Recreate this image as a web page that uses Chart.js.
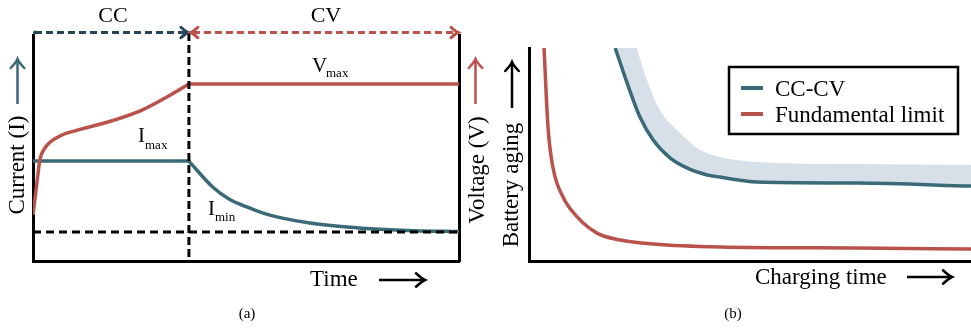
<!DOCTYPE html>
<html><head><meta charset="utf-8">
<script src="https://cdn.jsdelivr.net/npm/chart.js@4.4.0/dist/chart.umd.min.js"></script>
<style>
html,body{margin:0;padding:0;background:#fff;}
#wrap{position:relative;width:971px;height:328px;overflow:hidden;background:#fff;}
canvas{position:absolute;top:0;}
#ca{left:0;} #cb{left:490px;}
</style></head><body>
<div id="wrap"><canvas id="ca" width="490" height="328"></canvas><canvas id="cb" width="481" height="328"></canvas></div>
<script>
// ---------- Panel (a): CC-CV charging profile ----------
const switchTime = 36.6;          // end of CC phase
const iMax = 44.2;                // constant current level
const iMin = 12.8;                // cut-off current
const vMax = 78.3;                // constant voltage level
const ccTime = [0, 36.6];
const ccCurrent = [44.2, 44.2];
const cvTime = [36.6, 42.3, 46.2, 50.2, 54.0, 58.0, 65.0, 73.7, 81.5, 89.2, 100];
const cvCurrent = [44.2, 32.5, 27.2, 23.9, 21.2, 19.2, 16.8, 15.0, 14.0, 13.4, 13.0];
const rampTime = [0, 1.2, 1.6, 2.8, 5.9, 10.6, 17.6, 25.6, 31.0, 36.6];
const rampVoltage = [20.4, 39.0, 44.7, 50.0, 54.9, 58.0, 61.5, 66.8, 72.1, 78.3];
const holdTime = [36.6, 100];
const holdVoltage = [78.3, 78.3];

// ---------- Panel (b): aging vs charging time ----------
const fundTime = [3.4, 4.3, 5.4, 7.7, 10.9, 15.4, 20.6, 28.1, 43.2, 74.2, 100];
const fundAging = [100, 62.9, 44.1, 30.0, 20.7, 13.1, 9.9, 8.0, 6.6, 6.1, 5.6];
const cccvTime = [19.5, 22.2, 25.1, 28.1, 31.9, 35.7, 40.3, 43.2, 51.6, 74.2, 100];
const cccvAging = [100, 83.6, 67.6, 56.8, 48.4, 43.7, 40.4, 39.4, 37.1, 36.6, 35.2];
const bandTime = [19.5, 24.4, 26.7, 29.6, 34.2, 38.7, 43.2, 51.6, 74.2, 100];
const bandAging = [140, 100, 85.0, 70.9, 60.1, 52.1, 48.8, 46.5, 45.5, 45.1];

const TEAL = '#3a6a78', RED = '#b8524a', NAVY = '#27465c', BAND = '#d7e0e8';
const FONT = '"Liberation Serif", "Times New Roman", serif';

const pts = (xs, ys) => xs.map((v, i) => ({x: v, y: ys[i]}));

function text(ctx, s, x, y, size, align, color, rot) {
  ctx.save();
  ctx.font = size + 'px ' + FONT;
  ctx.fillStyle = color || '#000';
  ctx.textAlign = align || 'left';
  ctx.textBaseline = 'alphabetic';
  ctx.translate(x, y);
  if (rot) ctx.rotate(rot);
  ctx.fillText(s, 0, 0);
  ctx.restore();
}
function head(ctx, x, y, ang, size, color, lw) {
  ctx.save();
  ctx.translate(x, y); ctx.rotate(ang);
  ctx.strokeStyle = color; ctx.lineWidth = lw; ctx.lineCap = 'round'; ctx.lineJoin = 'miter';
  ctx.beginPath();
  ctx.moveTo(-size, -size * 0.75);
  ctx.quadraticCurveTo(-size * 0.35, -size * 0.15, 0, 0);
  ctx.quadraticCurveTo(-size * 0.35, size * 0.15, -size, size * 0.75);
  ctx.stroke();
  ctx.restore();
}
function arrow(ctx, x1, y1, x2, y2, color, lw, size) {
  ctx.save();
  ctx.strokeStyle = color; ctx.lineWidth = lw; ctx.lineCap = 'butt';
  ctx.beginPath(); ctx.moveTo(x1, y1); ctx.lineTo(x2, y2); ctx.stroke();
  ctx.restore();
  head(ctx, x2, y2, Math.atan2(y2 - y1, x2 - x1), size, color, lw);
}
function dashed(ctx, x1, y1, x2, y2, color, lw, dash) {
  ctx.save();
  ctx.strokeStyle = color; ctx.lineWidth = lw; ctx.setLineDash(dash);
  ctx.beginPath(); ctx.moveTo(x1, y1); ctx.lineTo(x2, y2); ctx.stroke();
  ctx.restore();
}

const hiddenScale = (pos) => ({
  type: 'linear', position: pos, min: 0, max: 100,
  ticks: {display: false}, grid: {display: false, drawTicks: false},
  border: {display: true, color: '#000', width: 3}
});

const annotA = {
  id: 'annotA',
  afterDraw(chart) {
    const {ctx, chartArea: ca, scales: {x, y}} = chart;
    const xs = x.getPixelForValue(switchTime);
    const x0 = x.getPixelForValue(0), x1 = x.getPixelForValue(100);
    const yTop = ca.top - 2.5;
    // CC / CV phase arrows
    dashed(ctx, x0 + 2, yTop, xs - 3, yTop, NAVY, 3, [7, 4]);
    ctx.save(); ctx.fillStyle = NAVY; ctx.beginPath(); ctx.arc(x0 + 2, yTop, 2, 0, 2 * Math.PI); ctx.fill(); ctx.restore();
    head(ctx, xs - 1, yTop, 0, 7, NAVY, 3);
    dashed(ctx, xs + 4, yTop, x1 - 3, yTop, RED, 3, [7, 4]);
    head(ctx, xs + 2, yTop, Math.PI, 7, RED, 3);
    head(ctx, x1 - 1, yTop, 0, 7, RED, 3);
    text(ctx, 'CC', (x0 + xs) / 2 + 2, 22, 22, 'center');
    text(ctx, 'CV', (xs + x1) / 2 + 2, 22, 22, 'center');
    // level labels
    const vy = y.getPixelForValue(vMax), iy = y.getPixelForValue(iMax), ny = y.getPixelForValue(iMin);
    text(ctx, 'V', 312, vy - 12, 21);
    text(ctx, 'max', 326, vy - 7, 13);
    text(ctx, 'I', 138, iy - 19, 21);
    text(ctx, 'max', 145, iy - 12, 13);
    text(ctx, 'I', 208, ny - 17, 21);
    text(ctx, 'min', 215, ny - 11, 13);
    // axis titles
    text(ctx, 'Time', 310, 286, 23);
    arrow(ctx, 379, 280, 425, 280, '#000', 2.5, 9);
    text(ctx, 'Current (I)', 24, 165, 23, 'center', '#000', -Math.PI / 2);
    arrow(ctx, 17.5, 104, 17.5, 59, TEAL, 2.5, 9);
    text(ctx, 'Voltage (V)', 484, 170, 23, 'center', '#000', -Math.PI / 2);
    arrow(ctx, 475.5, 104, 475.5, 59, RED, 2.5, 9);
    text(ctx, '(a)', 247, 318, 15, 'center');
  }
};

new Chart(document.getElementById('ca'), {
  type: 'line',
  data: {
    datasets: [
      {data: pts([switchTime, switchTime], [100.9, 0]), borderColor: '#000', borderWidth: 3, borderDash: [8, 4], pointRadius: 0, clip: 4},
      {data: pts([0, 100], [iMin, iMin]), borderColor: '#000', borderWidth: 3, borderDash: [8, 5], pointRadius: 0},
      {data: pts(rampTime, rampVoltage), borderColor: RED, borderWidth: 3.5, pointRadius: 0, cubicInterpolationMode: 'monotone'},
      {data: pts(holdTime, holdVoltage), borderColor: RED, borderWidth: 3.5, pointRadius: 0},
      {data: pts(ccTime, ccCurrent), borderColor: TEAL, borderWidth: 3.5, pointRadius: 0},
      {data: pts(cvTime, cvCurrent), borderColor: TEAL, borderWidth: 3.5, pointRadius: 0, cubicInterpolationMode: 'monotone'}
    ]
  },
  options: {
    responsive: false, animation: false, devicePixelRatio: 1,
    layout: {padding: {left: 33, right: 31, top: 35, bottom: 67}},
    plugins: {legend: {display: false}, tooltip: {enabled: false}},
    scales: {x: hiddenScale('bottom'), y: hiddenScale('left'), y2: hiddenScale('right')}
  },
  plugins: [annotA]
});

const annotB = {
  id: 'annotB',
  afterDraw(chart) {
    const {ctx} = chart;
    text(ctx, 'Charging time', 265, 284, 23);
    arrow(ctx, 417, 277, 462, 277, '#000', 2.5, 9);
    text(ctx, 'Battery aging', 27.5, 185, 23, 'center', '#000', -Math.PI / 2);
    arrow(ctx, 22, 108, 22, 62, '#000', 2.5, 9);
    text(ctx, '(b)', 243, 318, 15, 'center');
    // legend
    const items = chart.data.datasets.filter(d => d.label);
    ctx.save();
    ctx.fillStyle = '#fff'; ctx.fillRect(239, 67, 229, 67);
    ctx.strokeStyle = '#000'; ctx.lineWidth = 2.5; ctx.strokeRect(239, 67, 229, 67);
    items.forEach((d, i) => {
      const yy = 88 + i * 26;
      ctx.strokeStyle = d.borderColor; ctx.lineWidth = 4;
      ctx.beginPath(); ctx.moveTo(251, yy); ctx.lineTo(273, yy); ctx.stroke();
      text(ctx, d.label, 285, yy + 7.5, 23);
    });
    ctx.restore();
  }
};

new Chart(document.getElementById('cb'), {
  type: 'line',
  data: {
    datasets: [
      {label: 'CC-CV', data: pts(cccvTime, cccvAging), borderColor: TEAL, borderWidth: 3.5, pointRadius: 0, cubicInterpolationMode: 'monotone'},
      {label: 'Fundamental limit', data: pts(fundTime, fundAging), borderColor: RED, borderWidth: 3.5, pointRadius: 0, cubicInterpolationMode: 'monotone'},
      {data: pts(bandTime, bandAging), borderColor: 'rgba(0,0,0,0)', borderWidth: 0, backgroundColor: BAND, pointRadius: 0, cubicInterpolationMode: 'monotone', fill: {target: 0}}
    ]
  },
  options: {
    responsive: false, animation: false, devicePixelRatio: 1,
    layout: {padding: {left: 39, right: 0, top: 48, bottom: 67}},
    plugins: {legend: {display: false}, tooltip: {enabled: false}},
    scales: {x: hiddenScale('bottom'), y: hiddenScale('left')}
  },
  plugins: [annotB]
});
</script>
</body></html>
